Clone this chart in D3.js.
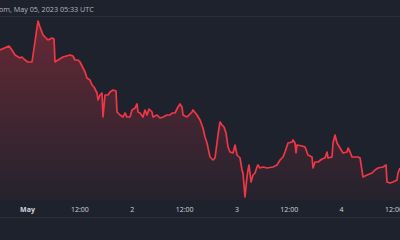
<!DOCTYPE html>
<html><head><meta charset="utf-8">
<script src="https://cdn.jsdelivr.net/npm/d3@7"></script>
<style>html,body{margin:0;padding:0;background:#1e222d;overflow:hidden}</style>
</head><body><svg id="c" width="400" height="240"></svg>
<script>
// hours since 2023-05-01 00:00 UTC
const hours = [-6.19,-4.13,-3.44,-2.75,-1.60,-1.15,-0.46,0.23,1.15,2.52,2.98,3.67,4.81,5.73,6.19,6.42,7.11,8.25,9.86,10.54,11.00,11.69,12.15,12.84,13.30,13.75,14.44,14.90,15.36,16.05,16.28,16.73,17.19,17.42,17.88,18.57,19.03,19.71,20.40,20.63,21.32,22.01,22.46,22.92,23.61,24.07,24.76,25.22,25.44,25.90,26.59,27.05,27.51,27.97,28.65,28.88,29.80,30.49,31.18,32.09,32.78,33.24,33.93,34.61,35.07,35.53,35.76,36.68,37.14,37.82,38.05,38.97,39.66,40.34,40.80,41.26,41.95,42.64,43.10,43.55,43.78,44.24,44.70,45.16,45.62,46.08,46.53,47.22,47.68,48.14,48.83,49.28,49.51,49.97,50.43,50.66,50.89,51.35,51.81,52.26,52.72,52.95,53.41,54.10,55.02,56.39,57.31,58.00,58.68,59.14,59.83,60.75,60.98,61.43,61.66,61.89,63.04,63.73,64.41,65.33,65.56,66.02,66.71,67.62,68.31,68.77,69.00,69.92,70.15,70.61,71.06,71.75,72.44,73.36,73.59,74.05,74.50,75.19,75.88,76.34,77.02,77.94,79.09,79.77,80.46,81.61,82.29,82.52,83.21,83.90,84.81,85.04,85.50];
const yPix = [50,46,50,55,58,57,60,62,62,21,27,35,40,38,39,62,60,57,55,56,60,60,62,68,72,78,80,85,87,93,100,95,93,117,95,95,92,90,91,112,115,117,113,117,117,110,108,104,112,113,117,110,115,109,112,117,115,118,117,115,115,113,113,107,104,107,115,117,115,112,110,115,120,128,137,143,157,160,158,143,135,122,125,127,133,147,152,153,145,155,158,170,173,197,177,170,165,182,175,173,167,165,168,167,168,167,165,160,157,152,143,142,140,143,153,145,146,147,155,157,168,162,162,159,158,152,158,157,143,135,143,148,153,152,148,152,157,157,157,158,177,175,173,170,168,167,165,182,183,182,180,173,168];
const values = yPix.map(v => 200 - v);
const tickHours = [0,12,24,36,48,60,72,84];
const tickLabels = ["May","12:00","2","12:00","3","12:00","4","12:00"];
const title = "om, May 05, 2023 05:33 UTC";

const base = Date.UTC(2023,4,1,0,0);
const H = 3600e3;
const data = hours.map((h,i)=>({t:new Date(base+h*H), v:values[i]}));

const svg = d3.select("#c");
const x = d3.scaleUtc().domain([new Date(base-6.19*H), new Date(base+85.5*H)]).range([0,400]);
const y = d3.scaleLinear().domain([0,200]).range([200,0]);

svg.append("rect").attr("width",400).attr("height",240).attr("fill","#1e222d");

const defs = svg.append("defs");
const g = defs.append("linearGradient").attr("id","fg")
  .attr("gradientUnits","userSpaceOnUse").attr("x1",0).attr("x2",0).attr("y1",20).attr("y2",200);
g.append("stop").attr("offset",0).attr("stop-color","#f23645").attr("stop-opacity",0.34);
g.append("stop").attr("offset",1).attr("stop-color","#f23645").attr("stop-opacity",0.03);

svg.append("line").attr("x1",0).attr("x2",400).attr("y1",16.5).attr("y2",16.5).attr("stroke","#2a2e39");
svg.append("line").attr("x1",0).attr("x2",400).attr("y1",217.5).attr("y2",217.5).attr("stroke","#2a2e39");

svg.append("path").datum(data)
  .attr("d", d3.area().x(d=>x(d.t)).y0(y(0)).y1(d=>y(d.v)))
  .attr("fill","url(#fg)");
svg.append("path").datum(data)
  .attr("d", d3.line().x(d=>x(d.t)).y(d=>y(d.v)))
  .attr("fill","none").attr("stroke","#f23645").attr("stroke-width",1.7).attr("stroke-linejoin","round");

const ax = d3.axisBottom(x)
  .tickValues(tickHours.map(h=>new Date(base+h*H)))
  .tickFormat((d,i)=>tickLabels[i]).tickSize(0).tickPadding(0);
const axg = svg.append("g").attr("transform","translate(0,212)").call(ax);
axg.select(".domain").remove();
axg.selectAll("text").attr("fill","#d1d4dc").attr("font-family","'Open Sans', sans-serif").attr("font-size",7)
  .attr("dy","0").attr("font-weight",(d,i)=>i===0?"bold":"normal");

svg.append("text").attr("x",-1).attr("y",11.5).attr("fill","#b2b5be")
  .attr("font-family","'Open Sans', sans-serif").attr("font-size",7.2).text(title);
</script></body></html>
